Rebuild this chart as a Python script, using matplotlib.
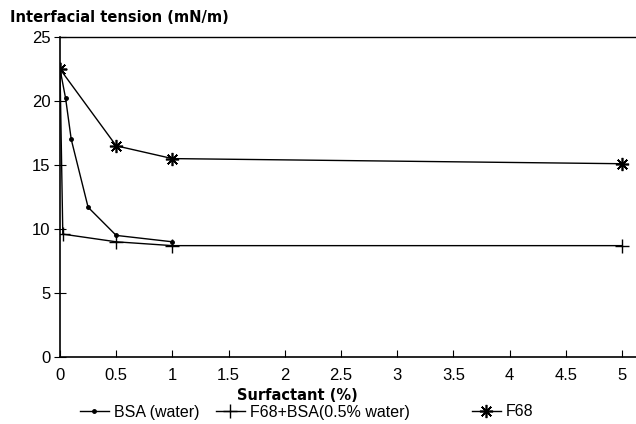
import matplotlib
matplotlib.use("Agg")
import matplotlib.pyplot as plt
from matplotlib.lines import Line2D

plt.rcParams["font.family"] = ["Liberation Sans", "DejaVu Sans"]

# surfactant concentration (%) vs interfacial tension (mN/m)
bsa_x = [0, 0.05, 0.1, 0.25, 0.5, 1]
bsa_y = [22.5, 20.2, 17.0, 11.7, 9.5, 9.0]

mix_x = [0, 0.025, 0.5, 1, 5]
mix_y = [22.5, 9.6, 9.0, 8.7, 8.7]

f68_x = [0, 0.5, 1, 5]
f68_y = [22.5, 16.5, 15.5, 15.1]

labels = ["BSA (water)", "F68+BSA(0.5% water)", "F68"]
xticks = [0, 0.5, 1, 1.5, 2, 2.5, 3, 3.5, 4, 4.5, 5]
xticklabels = ["0", "0.5", "1", "1.5", "2", "2.5", "3", "3.5", "4", "4.5", "5"]
yticks = [0, 5, 10, 15, 20, 25]

fig = plt.figure(figsize=(6.36, 4.24), dpi=100)
ax = fig.add_axes([60/636, 1-357/424, 576/636, 320/424])

st_bsa = dict(color="k", marker=".", ms=5, lw=1)
st_mix = dict(color="k", marker="+", ms=10, mew=1, lw=1)
st_f68 = dict(color="k", marker=(8, 2, 0), ms=9.5, mew=1.2, lw=1)

ax.plot(bsa_x, bsa_y, **st_bsa)
ax.plot(mix_x, mix_y, **st_mix)
ax.plot(f68_x, f68_y, **st_f68)

ax.set_xlim(0, 5.125)
ax.set_ylim(0, 25)
ax.set_xticks(xticks)
ax.set_xticklabels(xticklabels)
ax.set_yticks(yticks)
ax.tick_params(axis="x", direction="in", length=5, labelsize=12, pad=8)
ax.tick_params(axis="y", direction="inout", length=8, labelsize=12, pad=3)
ax.spines["right"].set_visible(False)
for s in ["left", "bottom"]:
    ax.spines[s].set_linewidth(1.2)
ax.spines["top"].set_linewidth(1.0)

fig.text(10/636, 1-18/424, "Interfacial tension (mN/m)", fontsize=10.5, fontweight="bold",
         family="DejaVu Sans", va="center", ha="left")
fig.text(297/636, 1-395/424, "Surfactant (%)", fontsize=10.5, fontweight="bold",
         family="DejaVu Sans", va="center", ha="center")

# legend entries placed one by one, as in the original
handle_x = [80, 216, 472]
for hx, st, lab in zip(handle_x, [st_bsa, st_mix, st_f68], labels):
    h = Line2D([], [], **st)
    fig.legend([h], [lab], loc="center left", bbox_to_anchor=(hx/636, 1-412/424),
               frameon=False, fontsize=11.5, handlelength=1.8, handletextpad=0.3,
               borderaxespad=0, borderpad=0)

fig.savefig("out.png", dpi=100)
